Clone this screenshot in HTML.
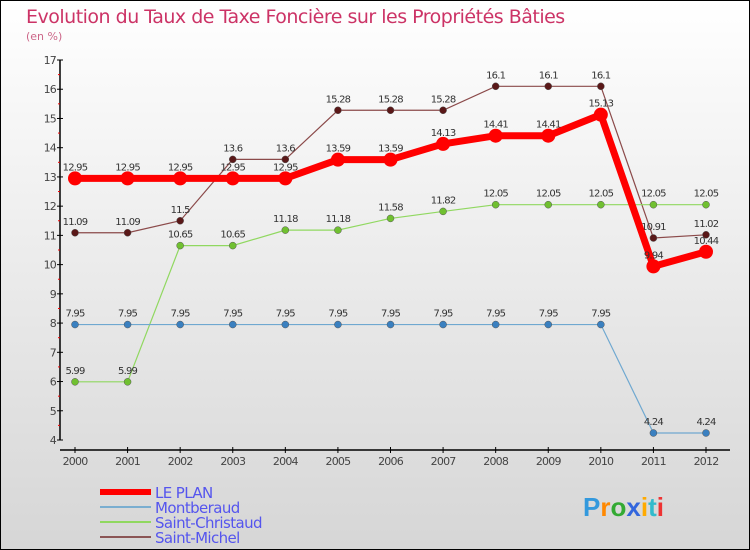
<!DOCTYPE html>
<html><head><meta charset="utf-8"><style>
body{margin:0}
svg{display:block;font-family:"DejaVu Sans","Liberation Sans",sans-serif}
</style></head><body>
<svg width="750" height="550" viewBox="0 0 750 550" xmlns="http://www.w3.org/2000/svg">
<defs><linearGradient id="bg" x1="0" y1="0" x2="0" y2="1"><stop offset="0" stop-color="#ffffff"/><stop offset="1" stop-color="#d6d6d6"/></linearGradient></defs>
<rect x="0.5" y="0.5" width="749" height="549" fill="url(#bg)" stroke="#000"/>
<text x="26" y="23" font-size="19" fill="#cc3366" letter-spacing="-0.5">Evolution du Taux de Taxe Foncière sur les Propriétés Bâties</text>
<text x="26" y="40" font-size="11" fill="#cc6688">(en %)</text>
<g id="axes"></g>
<g id="series"></g>
<g id="legend"></g>
<g font-size="26" font-weight="bold" font-family="Liberation Sans,sans-serif">
<text x="583" y="516"><tspan fill="#3399dd">P</tspan><tspan fill="#ff8800">r</tspan><tspan fill="#33aa33">o</tspan><tspan fill="#3366dd">x</tspan><tspan fill="#ffaa00">i</tspan><tspan fill="#33bbcc">t</tspan><tspan fill="#ee3333">i</tspan></text>
</g>
</svg>
<script>
const years=[2000,2001,2002,2003,2004,2005,2006,2007,2008,2009,2010,2011,2012];
const yTicks=[4,5,6,7,8,9,10,11,12,13,14,15,16,17];
const lePlan=[12.95,12.95,12.95,12.95,12.95,13.59,13.59,14.13,14.41,14.41,15.13,9.94,10.44];
const montberaud=[7.95,7.95,7.95,7.95,7.95,7.95,7.95,7.95,7.95,7.95,7.95,4.24,4.24];
const saintChristaud=[5.99,5.99,10.65,10.65,11.18,11.18,11.58,11.82,12.05,12.05,12.05,12.05,12.05];
const saintMichel=[11.09,11.09,11.5,13.6,13.6,15.28,15.28,15.28,16.1,16.1,16.1,10.91,11.02];
const NS="http://www.w3.org/2000/svg";
function X(i){return 75+i*(706-75)/12;}
function Y(v){return 440-(v-4)*(380/13);}
function mk(tag,attrs,parent,txt){const e=document.createElementNS(NS,tag);for(const k in attrs)e.setAttribute(k,attrs[k]);if(txt!==undefined)e.textContent=txt;parent.appendChild(e);return e;}
const ax=document.getElementById('axes');
let e=mk('line',{x1:60,y1:60,x2:60,y2:440,stroke:'#000','stroke-width':1.5},ax);


e=mk('line',{x1:60,y1:450,x2:730,y2:450,stroke:'#000','stroke-width':1.5},ax);


yTicks.forEach((t,i)=>{const y=Y(t);
mk('line',{x1:57,y1:y,x2:63,y2:y,stroke:'#000'},ax);
if(i<yTicks.length-1)mk('line',{x1:58,y1:Y(t+0.5),x2:60,y2:Y(t+0.5),stroke:'#e00'},ax);
e=mk('text',{x:56,y:y+4,'font-size':11,fill:'#444','text-anchor':'end','letter-spacing':'-0.8'},ax,String(t));

});
years.forEach((yr,i)=>{const x=X(i);
mk('line',{x1:x,y1:447,x2:x,y2:453,stroke:'#000'},ax);
e=mk('text',{x:x,y:465,'font-size':11,fill:'#444','text-anchor':'middle','letter-spacing':'-0.8'},ax,String(yr));

});
const sg=document.getElementById('series');
const series=[
{name:'saint-michel',d:saintMichel,line:'#8b4a4a',w:1.2,pt:'#5a1818',r:3.5},
{name:'saint-christaud',d:saintChristaud,line:'#90d860',w:1.2,pt:'#70c030',r:3.5},
{name:'montberaud',d:montberaud,line:'#6fa8d0',w:1.2,pt:'#3a80c0',r:3.5},
{name:'le-plan',d:lePlan,line:'#ff0000',w:7,pt:'#ff0000',r:7}];
series.forEach(s=>{const g=mk('g',{},sg);


const p=mk('polyline',{points:s.d.map((v,i)=>X(i)+','+Y(v)).join(' '),fill:'none',stroke:s.line,'stroke-width':s.w},g);


s.d.forEach((v,i)=>{const c=mk('circle',{cx:X(i),cy:Y(v),r:s.r,fill:s.pt,stroke:s.r>5?'none':'#555','stroke-width':0.5},g);


const t=mk('text',{x:X(i),y:Y(v)-8,'font-size':10,fill:'#333','text-anchor':'middle','letter-spacing':'-0.8'},g,String(v));

});});
const lg=document.getElementById('legend');
const leg=[['LE PLAN','#ff0000',6],['Montberaud','#7aaed0',2],['Saint-Christaud','#90d860',2],['Saint-Michel','#8b5555',2]];
leg.forEach((l,i)=>{const y=492+i*15;const g=mk('g',{},lg);


mk('line',{x1:100,y1:y,x2:151,y2:y,stroke:l[1],'stroke-width':l[2]},g);
mk('text',{x:155,y:y+6,'font-size':15,fill:'#5555ee','letter-spacing':'-0.6'},g,l[0]);});
</script>
</body></html>
